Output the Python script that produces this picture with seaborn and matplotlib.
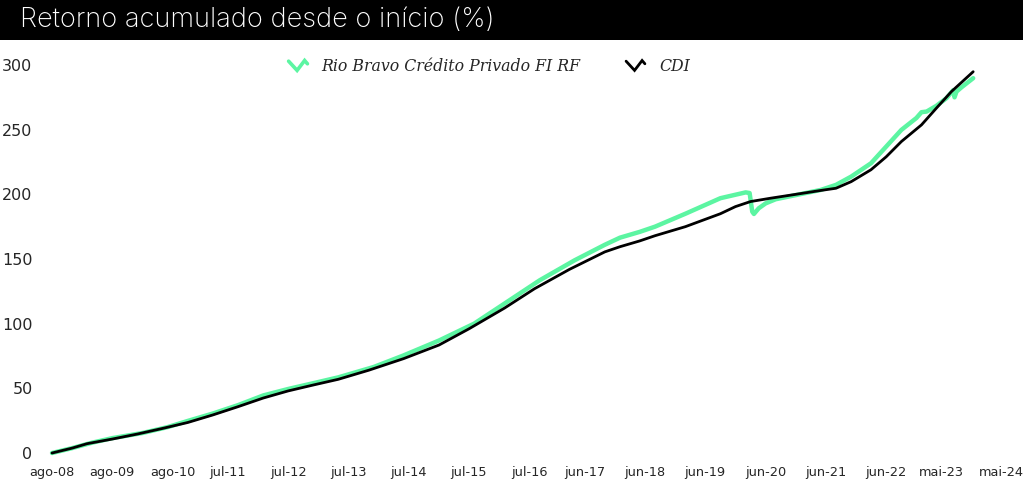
import pandas as pd
import numpy as np
import matplotlib
matplotlib.use("Agg")
import matplotlib.pyplot as plt
import matplotlib.dates as mdates
import seaborn as sns
from matplotlib.legend_handler import HandlerLine2D
from matplotlib.lines import Line2D

# CDI accumulated return (%)
cdi_dates = ["2008-08-01", "2008-12-01", "2009-03-01", "2009-08-01", "2010-01-01",
             "2010-06-01", "2010-11-01", "2011-04-01", "2011-09-01", "2012-02-01",
             "2012-07-01", "2012-12-01", "2013-05-01", "2013-11-01", "2014-06-01",
             "2015-01-01", "2015-07-01", "2016-02-01", "2016-08-01", "2017-03-01",
             "2017-10-01", "2018-01-01", "2018-05-01", "2018-08-01", "2019-02-01",
             "2019-09-01", "2019-12-01", "2020-03-01", "2020-07-01", "2020-10-01",
             "2021-05-01", "2021-08-01", "2021-11-01", "2022-03-01", "2022-06-01",
             "2022-09-01", "2023-01-01", "2023-04-01", "2023-07-01", "2023-11-10"]
cdi_vals = [0, 3.8, 7.2, 10.8, 14.7,
            19, 23.6, 29.4, 35.8, 42.5,
            48, 52.6, 57, 64, 73,
            83.5, 96, 112, 127, 142,
            155.5, 159.5, 164, 168, 175,
            185, 190.5, 194.4, 197, 198.8,
            203, 204.7, 209.8, 219, 229,
            240.8, 253.7, 266.6, 279.4, 294.8]

# Rio Bravo Crédito Privado FI RF accumulated return (%)
fund_dates = ["2008-08-01", "2008-12-01", "2009-04-01", "2009-08-01", "2010-02-01",
              "2010-07-01", "2010-11-01", "2011-04-01", "2011-09-01", "2012-02-01",
              "2012-07-01", "2012-12-01", "2013-05-01", "2013-12-01", "2014-06-01",
              "2015-01-01", "2015-08-01", "2016-02-01", "2016-09-01", "2017-04-01",
              "2017-10-01", "2018-01-01", "2018-05-01", "2018-08-01", "2019-02-01",
              "2019-09-01", "2019-11-01", "2020-02-01", "2020-02-25", "2020-03-12",
              "2020-03-22", "2020-04-20", "2020-06-01", "2020-08-01", "2020-10-01",
              "2021-05-01", "2021-08-01", "2021-11-01", "2022-03-01", "2022-06-01",
              "2022-09-01", "2022-12-01", "2023-01-01", "2023-02-01", "2023-04-01",
              "2023-06-01", "2023-07-12", "2023-07-20", "2023-08-01", "2023-09-01",
              "2023-11-10"]
fund_vals = [0, 3.8, 8, 11.5, 15.5,
             20, 24.8, 30.5, 37, 44.5,
             49.5, 54, 58.5, 66.5, 75.5,
             87, 100, 115.5, 133.5, 149,
             161, 166.5, 171, 175, 185,
             197, 198.8, 201.5, 201, 186.6,
             184.8, 189.2, 193, 196.2, 197.8,
             203.4, 207.3, 213.7, 224, 236.9,
             249.8, 259, 263.5, 264, 268.4,
             274.3, 280.5, 275, 279.4, 282.8,
             289.8]

tick_dates = ["2008-08-01", "2009-08-01", "2010-08-01", "2011-07-01", "2012-07-01",
              "2013-07-01", "2014-07-01", "2015-07-01", "2016-07-01", "2017-06-01",
              "2018-06-01", "2019-06-01", "2020-06-01", "2021-06-01", "2022-06-01",
              "2023-05-01", "2024-05-01"]
tick_labels = ["ago-08", "ago-09", "ago-10", "jul-11", "jul-12",
               "jul-13", "jul-14", "jul-15", "jul-16", "jun-17",
               "jun-18", "jun-19", "jun-20", "jun-21", "jun-22",
               "mai-23", "mai-24"]
y_ticks = [0, 50, 100, 150, 200, 250, 300]

GREEN = "#5cf5a2"

cdi = pd.DataFrame({"date": pd.to_datetime(cdi_dates), "value": cdi_vals})
fund = pd.DataFrame({"date": pd.to_datetime(fund_dates), "value": fund_vals})

sns.set_style("white")
plt.rcParams["font.family"] = ["DejaVu Sans"]

fig = plt.figure(figsize=(10.23, 4.83), dpi=100)

# black title bar
fig.patches.append(plt.Rectangle((0, 1 - 40 / 483), 1, 40 / 483, transform=fig.transFigure,
                                 facecolor="black", edgecolor="none", zorder=0))
fig.text(20 / 1023, 1 - 20 / 483, "Retorno acumulado desde o início (%)", color="white",
         fontsize=19.6, fontweight="light", family=["Inter", "DejaVu Sans"],
         va="center", ha="left")

ax = fig.add_axes([45 / 1023, (483 - 460) / 483, (1015 - 45) / 1023, (460 - 58) / 483])

sns.lineplot(data=fund, x="date", y="value", ax=ax, color=GREEN, linewidth=3.2,
             label="Rio Bravo Crédito Privado FI RF", zorder=2)
sns.lineplot(data=cdi, x="date", y="value", ax=ax, color="black", linewidth=2.0,
             label="CDI", zorder=3)

x0 = pd.Timestamp("2008-08-01")
ax.set_xlim(mdates.date2num(x0) - 1.4 * 30.44, mdates.date2num(x0) + 191.6 * 30.44)
ax.set_ylim(-5.4, 305.4)

ax.set_xticks(pd.to_datetime(tick_dates))
ax.set_xticklabels(tick_labels, fontsize=9.3)
ax.set_yticks(y_ticks)
ax.set_yticklabels([str(v) for v in y_ticks], fontsize=11.5)
ax.tick_params(axis="both", length=0)
ax.tick_params(axis="y", pad=9)
ax.tick_params(axis="x", pad=4)
ax.set_xlabel("")
ax.set_ylabel("")
for s in ax.spines.values():
    s.set_visible(False)


class ZigZag(HandlerLine2D):
    def create_artists(self, legend, orig_handle, xdescent, ydescent, width, height,
                       fontsize, trans):
        xs = np.array([0.0, 0.45, 0.85, 1.0]) * width - xdescent
        ys = np.array([0.75, 0.05, 0.8, 0.55]) * height * 1.2 - ydescent
        line = Line2D(xs, ys, color=orig_handle.get_color(),
                      linewidth=min(orig_handle.get_linewidth(), 2.6), solid_joinstyle="miter")
        line.set_transform(trans)
        return [line]


handles, labels = ax.get_legend_handles_labels()
leg = ax.legend(handles, labels, loc="upper center", bbox_to_anchor=(0.458, 1.035), ncol=2,
                frameon=False, handler_map={Line2D: ZigZag()}, handlelength=1.2,
                handletextpad=0.9, columnspacing=2.9,
                prop={"family": "DejaVu Serif", "style": "italic", "size": 11.3})

fig.savefig("out.png", dpi=100)
